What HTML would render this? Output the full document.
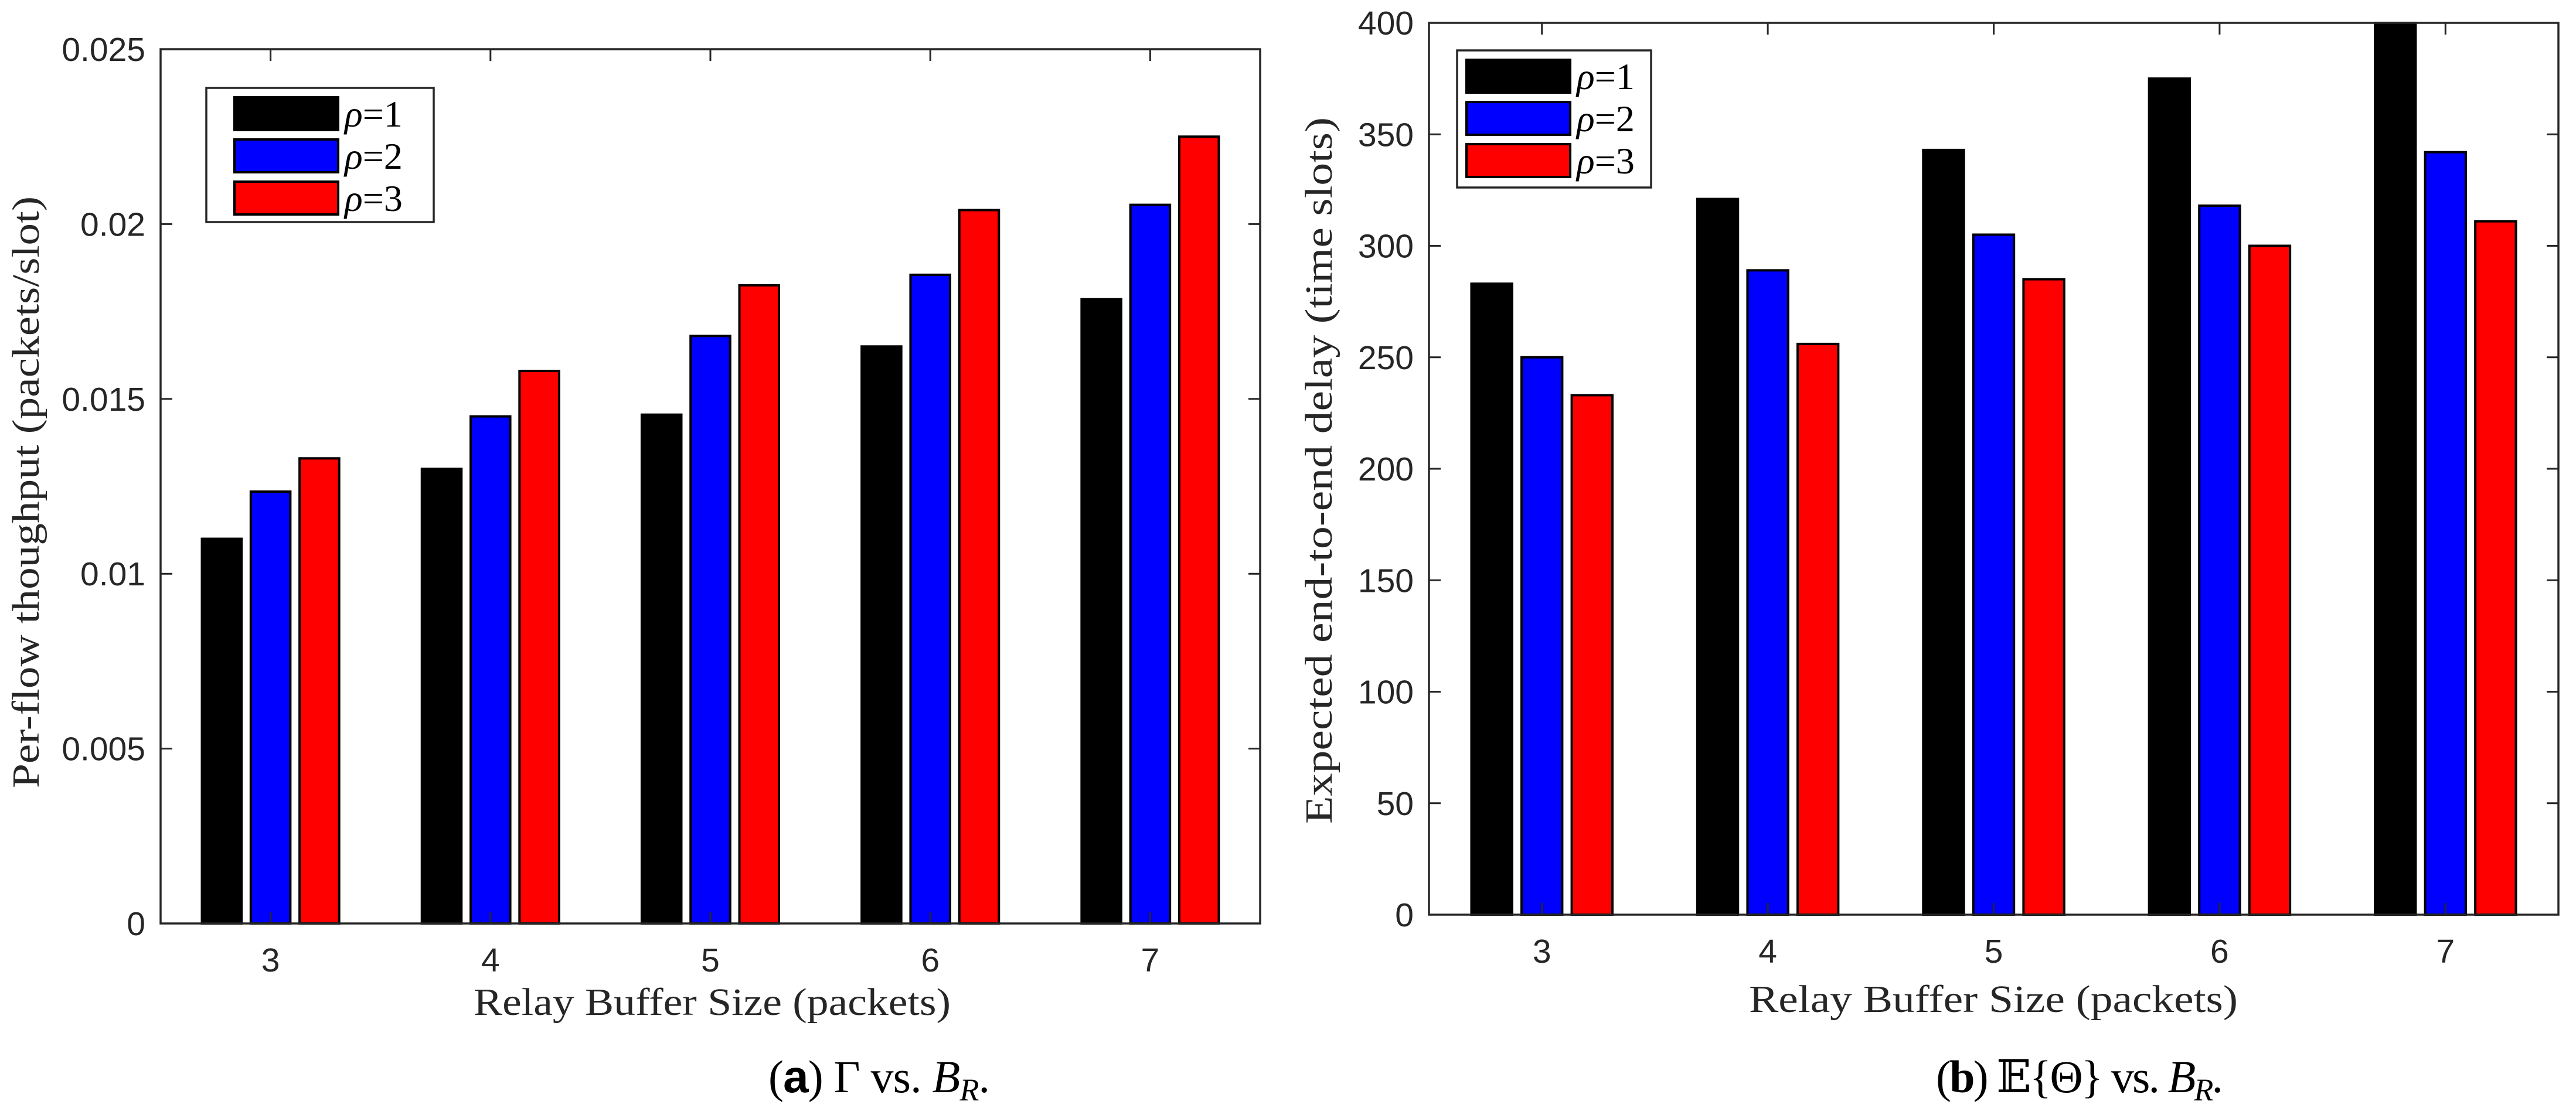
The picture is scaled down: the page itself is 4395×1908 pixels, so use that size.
<!DOCTYPE html>
<html><head><meta charset="utf-8"><style>
html,body{margin:0;padding:0;background:#fff;width:4395px;height:1908px;overflow:hidden}
svg{display:block}
.tk{font-family:"Liberation Sans",Arial,sans-serif;font-size:57px;fill:#262626}
.lab{font-family:"Liberation Serif","DejaVu Serif",serif;font-size:66px;fill:#262626}
.cap{font-family:"Liberation Serif","DejaVu Serif",serif;font-size:78px;fill:#000}
.leg{font-family:"Liberation Serif","DejaVu Serif",serif;font-size:64px;fill:#000}
</style></head><body>
<svg id="fig" xmlns="http://www.w3.org/2000/svg" width="4395" height="1908" viewBox="0 0 4395 1908"></svg>
<script>
const categories = [3, 4, 5, 6, 7];
const seriesNames = ["ρ=1", "ρ=2", "ρ=3"];
const throughputRho1 = [0.0110, 0.0130, 0.01455, 0.0165, 0.01785];
const throughputRho2 = [0.01235, 0.0145, 0.0168, 0.01855, 0.02055];
const throughputRho3 = [0.0133, 0.0158, 0.01825, 0.0204, 0.0225];
const delayRho1 = [283, 321, 343, 375, 400];
const delayRho2 = [250, 289, 305, 318, 342];
const delayRho3 = [233, 256, 285, 300, 311];
const throughputTicks = [0, 0.005, 0.01, 0.015, 0.02, 0.025];
const throughputTickLabels = ["0", "0.005", "0.01", "0.015", "0.02", "0.025"];
const delayTicks = [0, 50, 100, 150, 200, 250, 300, 350, 400];
const delayTickLabels = ["0", "50", "100", "150", "200", "250", "300", "350", "400"];

const NS = "http://www.w3.org/2000/svg";
const svg = document.getElementById("fig");
const colors = ["#000000", "#0000ff", "#ff0000"];
function mk(tag, attrs, parent) {
  const e = document.createElementNS(NS, tag);
  for (const k in attrs) e.setAttribute(k, attrs[k]);
  (parent || svg).appendChild(e);
  return e;
}

function drawPanel(p) {
  const g = mk("g", {});
  
  
  const W = p.R - p.L;
  const sp = W / categories.length;
  const xC = i => p.L + (i + 0.5) * sp;
  const yS = v => p.B - (v - p.ymin) / (p.ymax - p.ymin) * (p.B - p.T);
  const bw = 0.18 * sp, pitch = 0.222 * sp;
  p.series.forEach((vals, s) => {
    vals.forEach((v, i) => {
      const cx = xC(i) + (s - 1) * pitch;
      const y = yS(v);
      const r = mk("rect", {x: cx - bw / 2, y: y, width: bw, height: p.B - y, fill: colors[s], stroke: "#000", "stroke-width": 4}, g);
      
      
    });
  });
  const box = mk("rect", {x: p.L, y: p.T, width: W, height: p.B - p.T, fill: "none", stroke: "#262626", "stroke-width": 3.5}, g);
  
  
  p.ticks.forEach((t, k) => {
    const y = yS(t);
    mk("line", {x1: p.L, x2: p.L + 20, y1: y, y2: y, stroke: "#262626", "stroke-width": 3}, g);
    mk("line", {x1: p.R, x2: p.R - 20, y1: y, y2: y, stroke: "#262626", "stroke-width": 3}, g);
    const tx = mk("text", {x: p.L - 26, y: y + 20, "text-anchor": "end", class: "tk"}, g);
    tx.textContent = p.tickLabels[k];
    
    
  });
  categories.forEach((c, i) => {
    const x = xC(i);
    mk("line", {x1: x, x2: x, y1: p.B, y2: p.B - 20, stroke: "#262626", "stroke-width": 3}, g);
    mk("line", {x1: x, x2: x, y1: p.T, y2: p.T + 20, stroke: "#262626", "stroke-width": 3}, g);
    const tx = mk("text", {x: x, y: p.B + p.xtOff, "text-anchor": "middle", class: "tk"}, g);
    tx.textContent = String(c);
    
    
  });
  const yl = mk("text", {x: 0, y: 0, "text-anchor": "middle", class: "lab", transform: "translate(" + p.ylx + "," + p.yly + ") rotate(-90)", textLength: p.ylLen, lengthAdjust: "spacingAndGlyphs"}, g);
  yl.textContent = p.ylabel;
  
  
  const xl = mk("text", {x: p.xlx, y: p.xly, "text-anchor": "middle", class: "lab", textLength: p.xlLen, lengthAdjust: "spacingAndGlyphs"}, g);
  xl.textContent = "Relay Buffer Size (packets)";
  
  
  const lg = mk("g", {}, g);
  
  
  mk("rect", {x: p.lgx, y: p.lgy, width: p.lgw, height: p.lgh, fill: "#fff", stroke: "#262626", "stroke-width": 3.5}, lg);
  seriesNames.forEach((n, s) => {
    const ry = p.lgy + 16 + s * 72;
    const sw = mk("rect", {x: p.swx, y: ry, width: 177, height: 56, fill: colors[s], stroke: "#000", "stroke-width": 4}, lg);
    
    
    const t = mk("text", {x: p.swx + 188, y: ry + 50, class: "leg"}, lg);
    t.innerHTML = '<tspan font-style="italic">ρ</tspan>=' + (s + 1);
    
    
  });
  const cap = mk("text", {x: p.capx, y: 1864, "text-anchor": "middle", class: "cap", textLength: p.capLen, lengthAdjust: "spacing"}, g);
  cap.innerHTML = p.caption;
  
  
}

drawPanel({name: "throughput-chart", L: 274, R: 2150, T: 84, B: 1576, ymin: 0, ymax: 0.025,
  series: [throughputRho1, throughputRho2, throughputRho3], ticks: throughputTicks, tickLabels: throughputTickLabels,
  xtOff: 82, ylx: 66, yly: 840, ylLen: 1010, ylabel: "Per-flow thoughput (packets/slot)",
  xlx: 1215, xly: 1732, xlLen: 814,
  lgx: 352, lgy: 150, lgw: 388, lgh: 229, swx: 400,
  capx: 1500, capLen: 378, caption: '(<tspan font-family="Liberation Sans" font-weight="bold">a</tspan>) Γ vs. <tspan font-style="italic">B</tspan><tspan font-style="italic" font-size="54" dy="14">R</tspan><tspan dy="-14">.</tspan>'});

drawPanel({name: "delay-chart", L: 2438, R: 4365, T: 39, B: 1561, ymin: 0, ymax: 400,
  series: [delayRho1, delayRho2, delayRho3], ticks: delayTicks, tickLabels: delayTickLabels,
  xtOff: 82, ylx: 2272, yly: 803, ylLen: 1206, ylabel: "Expected end-to-end delay (time slots)",
  xlx: 3401, xly: 1727, xlLen: 834,
  lgx: 2486, lgy: 86, lgw: 331, lgh: 234, swx: 2502,
  capx: 3548, capLen: 490, caption: '(<tspan font-weight="bold">b</tspan>) 𝔼{Θ} vs. <tspan font-style="italic">B</tspan><tspan font-style="italic" font-size="54" dy="14">R</tspan><tspan dy="-14">.</tspan>'});
</script>
</body></html>
